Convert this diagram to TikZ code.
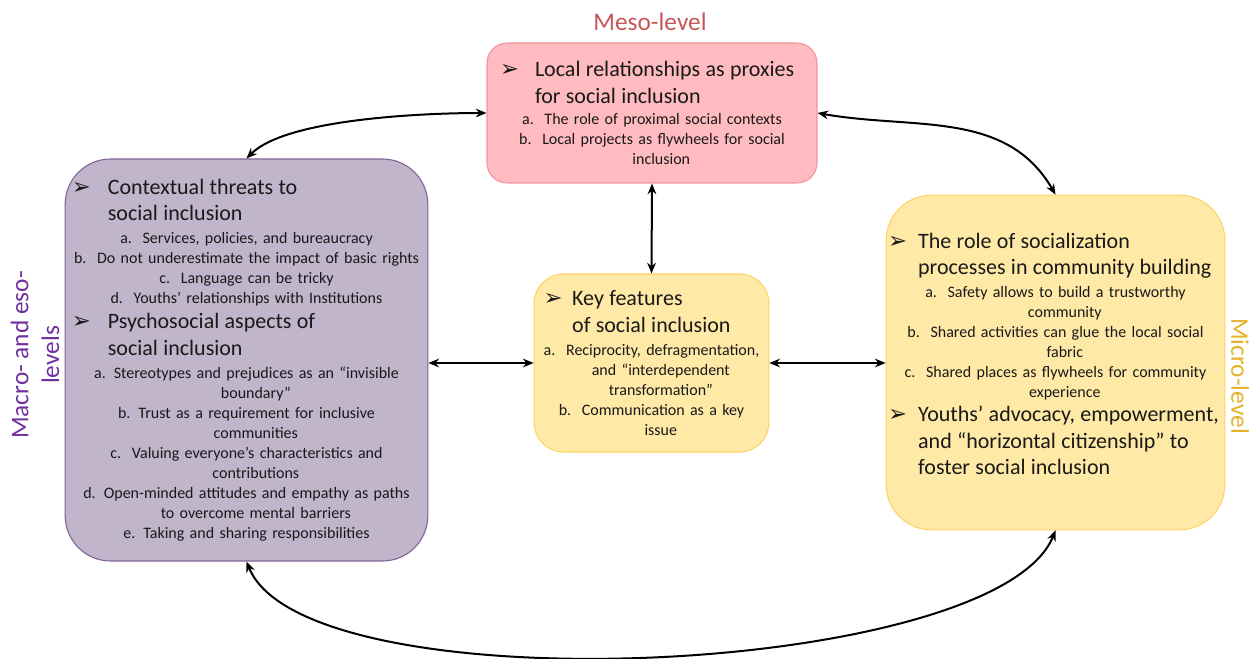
\documentclass[tikz,border=0pt]{standalone}
\usepackage{fontspec}
\setmainfont{Carlito}
\newfontfamily\dejavu{DejaVu Sans}
\usepackage{tikz}
\usetikzlibrary{arrows.meta, positioning}
\setlength{\parindent}{0pt}
\definecolor{mesofill}{RGB}{255,187,191}
\definecolor{mesoline}{RGB}{240,150,160}
\definecolor{mesotext}{RGB}{200,85,85}
\definecolor{macrofill}{RGB}{192,181,203}
\definecolor{macroline}{RGB}{128,100,150}
\definecolor{macrotext}{RGB}{112,48,160}
\definecolor{microfill}{RGB}{255,233,166}
\definecolor{microline}{RGB}{255,210,100}
\definecolor{microtext}{RGB}{228,178,40}
\definecolor{bodytext}{RGB}{25,25,25}
\newcommand{\bul}{{\dejavu\fontsize{17}{17}\selectfont ➢}}
\newcommand{\headfont}{\fontsize{16.5}{20}\selectfont}
\newcommand{\hfirst}[3]{\makebox[\hsize][l]{\hspace*{#1}\makebox[#2][l]{\bul}{\headfont #3}}}
\newcommand{\hnext}[2]{\makebox[\hsize][l]{\hspace*{#1}{\headfont #2}}}
\newcommand{\li}[1]{\makebox[\hsize]{#1}}
\newcommand{\cont}[1]{\makebox[\hsize]{\hspace*{14pt}#1}}

\begin{document}
\begin{tikzpicture}[
  x=0.75pt, y=0.75pt,
  >={Stealth[length=8pt,width=6.5pt]},
  lvlbox/.style  = {line width=0.8pt, inner sep=0pt, align=left,
                    text=bodytext, font=\fontsize{12}{15}\selectfont},
  lvllabel/.style = {font=\fontsize{19}{23}\selectfont, align=center},
  conn/.style    = {<->, line width=1.5pt}
]
\useasboundingbox (0,0) rectangle (1256,-659);

% meso-level box
\node[lvlbox, fill=mesofill, draw=mesoline, rounded corners=15pt,
      minimum width=247.5pt, minimum height=105pt, text width=247.5pt]
  (meso) at (652,-113) {%
  \hfirst{9.75pt}{26.25pt}{Local relationships as proxies}\\[5pt]
  \hnext{36pt}{for social inclusion}\\[1pt]
  \li{a.\ \ The role of proximal social contexts}\\
  \li{b.\ \ Local projects as flywheels for social}\\
  \cont{inclusion}};

% macro- and eso-levels box
\node[lvlbox, fill=macrofill, draw=macroline, rounded corners=34pt,
      minimum width=272pt, minimum height=301.5pt, text width=272pt]
  (macro) at (246.5,-360) {%
  \hfirst{5pt}{27pt}{Contextual threats to}\\[5pt]
  \hnext{32pt}{social inclusion}\\[2pt]
  \li{a.\ \ Services, policies, and bureaucracy}\\
  \li{b.\ \ Do not underestimate the impact of basic rights}\\
  \li{c.\ \ Language can be tricky}\\
  \li{d.\ \ Youths' relationships with Institutions}\\[4pt]
  \hfirst{5pt}{27pt}{Psychosocial aspects of}\\[5pt]
  \hnext{32pt}{social inclusion}\\[2pt]
  \li{a. Stereotypes and prejudices as an ``invisible}\\
  \cont{boundary''}\\
  \li{b. Trust as a requirement for inclusive}\\
  \cont{communities}\\
  \li{c.\ \ Valuing everyone's characteristics and}\\
  \cont{contributions}\\
  \li{d. Open-minded attitudes and empathy as paths}\\
  \cont{to overcome mental barriers}\\
  \li{e. Taking and sharing responsibilities}};

% key features box
\node[lvlbox, fill=microfill, draw=microline, rounded corners=22pt,
      minimum width=176pt, minimum height=133.5pt, text width=176pt]
  (key) at (651.5,-363) {%
  \hfirst{7pt}{21.5pt}{Key features}\\[5pt]
  \hnext{28.5pt}{of social inclusion}\\[2pt]
  \li{a.\ \ Reciprocity, defragmentation,}\\
  \cont{and ``interdependent}\\
  \cont{transformation''}\\
  \li{b.\ \ Communication as a key}\\
  \cont{issue}};

% micro-level box
\node[lvlbox, fill=microfill, draw=microline, rounded corners=34pt,
      minimum width=254pt, minimum height=251pt, text width=254pt]
  (micro) at (1055.5,-362.5) {%
  \hfirst{1.5pt}{22.5pt}{The role of socialization}\\[5pt]
  \hnext{24pt}{processes in community building}\\[2pt]
  \li{a.\ \ Safety allows to build a trustworthy}\\
  \cont{community}\\
  \li{b.\ \ Shared activities can glue the local social}\\
  \cont{fabric}\\
  \li{c.\ \ Shared places as flywheels for community}\\
  \cont{experience}\\[3pt]
  \hfirst{1.5pt}{22.5pt}{Youths' advocacy, empowerment,}\\[5pt]
  \hnext{24pt}{and ``horizontal citizenship'' to}\\[5pt]
  \hnext{24pt}{foster social inclusion\rule[-13pt]{0pt}{13pt}}};

% level labels
\node[lvllabel, text=mesotext] (mesolab) at (650,-22) {Meso-level};
\node[lvllabel, text=macrotext, rotate=90] (macrolab) at (35,-355)
  {Macro- and eso-\\levels};
\node[lvllabel, text=microtext, rotate=-90] (microlab) at (1240,-376)
  {Micro-level};

% connectors
\draw[conn] (macro.north) to[out=45, in=180, looseness=0.6] (meso.west);
\draw[conn] (meso.east) to[out=-10, in=120] (micro.north);
\draw[conn] (meso.south) -- (key.north);
\draw[conn] (key.west -| macro.east) -- (key.west);
\draw[conn] (key.east) -- (key.east -| micro.west);
\draw[conn] (macro.south) to[out=-68, in=-112, looseness=0.5] (micro.south);
\end{tikzpicture}
\end{document}
